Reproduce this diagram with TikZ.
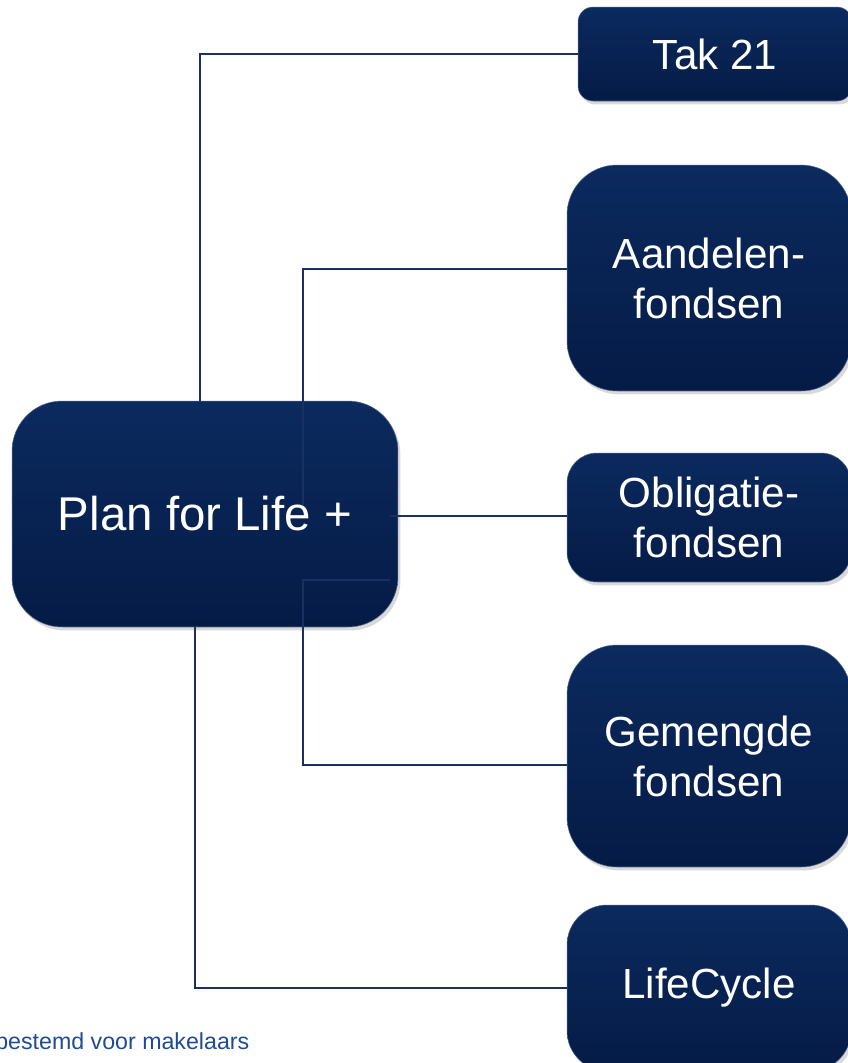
\documentclass[tikz,border=0pt]{standalone}
\usepackage{fontspec}
\setmainfont{Liberation Sans}
\usetikzlibrary{shadows}
\definecolor{navytop}{RGB}{11,42,94}
\definecolor{navybot}{RGB}{5,27,70}
\definecolor{linkblue}{RGB}{24,48,98}
\definecolor{footblue}{RGB}{30,74,150}

\begin{document}
\begin{tikzpicture}[x=0.02cm,y=-0.02cm]
\tikzstyle{box}=[rectangle, top color=navytop, bottom color=navybot, draw=navytop!70!white, line width=0.3pt, text=white, align=center, inner sep=0pt, drop shadow={opacity=0.3, shadow xshift=0.05cm, shadow yshift=-0.07cm}, font=\fontsize{24}{28.5}\selectfont]
\tikzstyle{link}=[draw=linkblue, line width=0.9pt]
\useasboundingbox (0,0) rectangle (848,1063);
\clip (0,0) rectangle (848,1063);

\node[box, minimum width=7.72cm, minimum height=4.52cm, rounded corners=1cm, font=\fontsize{27}{32}\selectfont] (plan) at (205,514) {Plan for Life +};

\node[box, minimum width=5.48cm, minimum height=1.88cm, rounded corners=0.3cm] (tak) at (715,54) {Tak 21};
\node[box, minimum width=5.68cm, minimum height=4.52cm, rounded corners=1cm] (aand) at (709,278) {Aandelen-\\fondsen};
\node[box, minimum width=5.68cm, minimum height=2.58cm, rounded corners=0.6cm] (oblig) at (709,517.5) {Obligatie-\\fondsen};
\node[box, minimum width=5.68cm, minimum height=4.44cm, rounded corners=1cm] (gem) at (709,756) {Gemengde\\fondsen};
\node[box, minimum width=5.68cm, minimum height=3.32cm, rounded corners=0.8cm] (life) at (709,988) {LifeCycle};

\coordinate (c1) at (200,401);
\coordinate (c2) at (303,505);
\coordinate (c3) at (390,516);
\coordinate (c4) at (390,580);
\coordinate (c5) at (195,627);

\draw[link] (c1) |- (tak.west);
\draw[link] (c2) |- ([yshift=0.18cm]aand.west);
\draw[link] (c3) -- (oblig.west |- c3);
\draw[link] (c4) -- (c4 -| c2) |- ([yshift=-0.18cm]gem.west);
\draw[link] (c5) |- (life.west);

\node[anchor=base west, inner sep=0pt, text=footblue, font=\fontsize{13.2}{16}\selectfont] (foot) at (-5,1049) {bestemd voor makelaars};

\end{tikzpicture}
\end{document}
